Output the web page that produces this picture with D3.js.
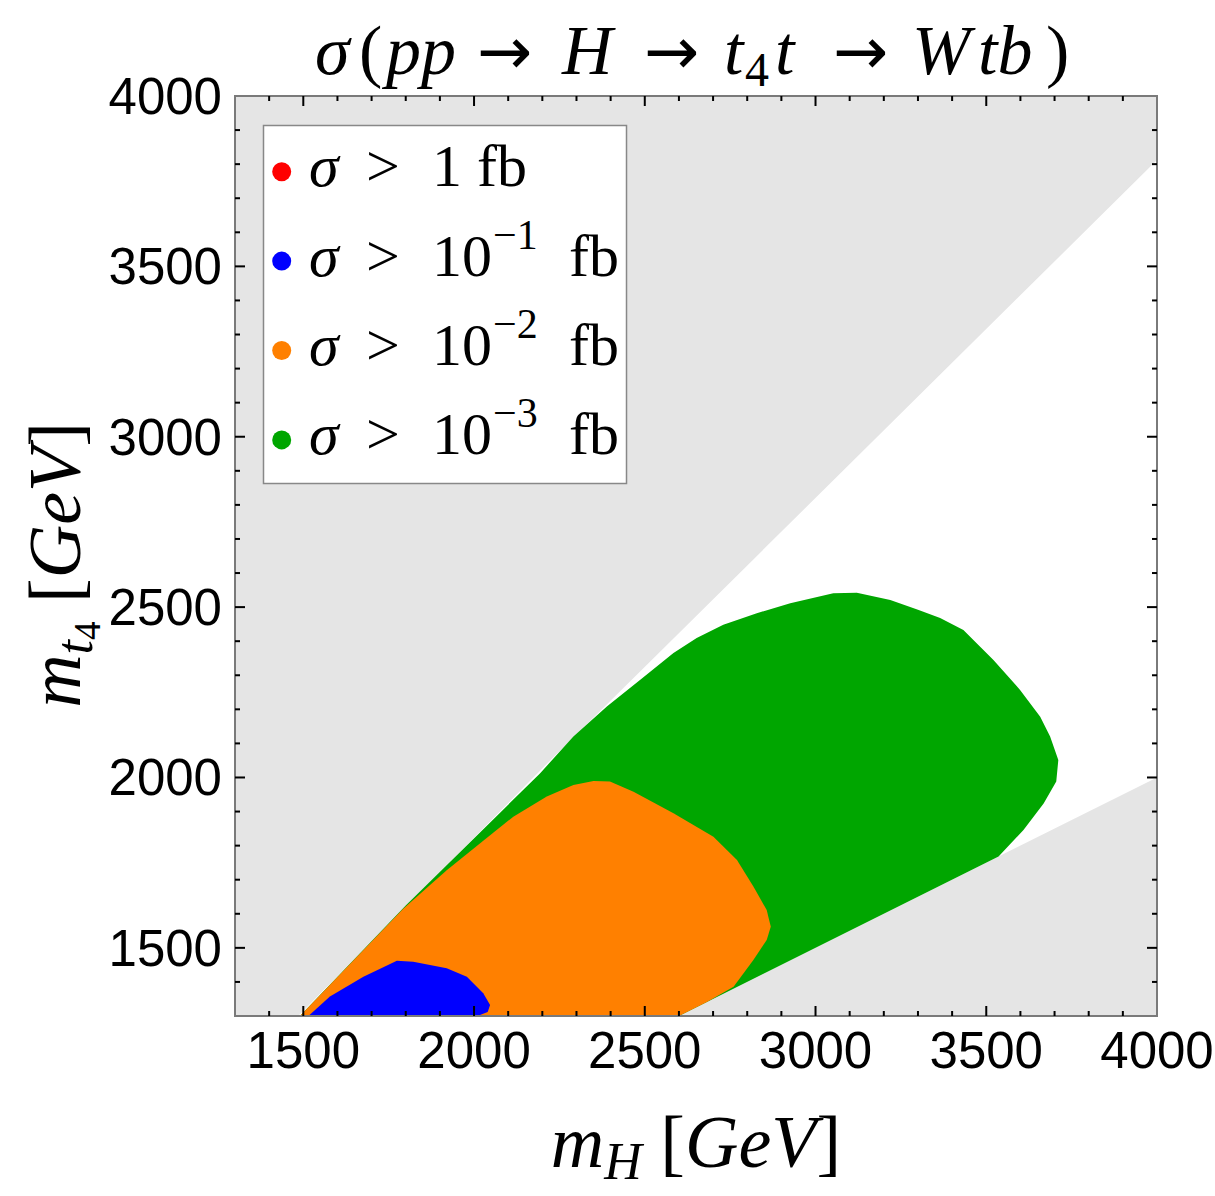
<!DOCTYPE html>
<html><head><meta charset="utf-8">
<script src="https://cdn.jsdelivr.net/npm/d3@7"></script>
<style>body{margin:0;background:#fff}</style>
</head><body>
<svg id="c" width="1215" height="1196"></svg>
<script>
// ---- data (GeV) ----
const xTicks = [1500, 2000, 2500, 3000, 3500, 4000];
const yTicks = [1500, 2000, 2500, 3000, 3500, 4000];
const minorTicks = d3.range(1400, 4000, 100);
// kinematic boundaries
const upperEdge = [[1485, 1300], [2225, 2052], [4000, 3812]];
const lowerEdge = [[2600, 1300], [4000, 2000]];
// contour regions
const green = [[1490,1300],[1800,1624],[2193,2012],[2291,2120],[2389,2208],[2486,2286],[2584,2365],[2652,2409],[2730,2448],[2828,2482],[2926,2511],[3052,2541],[3121,2542],[3219,2521],[3300,2492],[3365,2468],[3433,2433],[3521,2345],[3599,2257],[3658,2178],[3687,2120],[3711,2051],[3705,1988],[3668,1924],[3609,1846],[3536,1768],[2600,1300]];
const orange = [[1490,1300],[1792,1614],[1920,1728],[2018,1807],[2115,1885],[2213,1944],[2291,1978],[2350,1990],[2398,1988],[2467,1958],[2584,1895],[2701,1826],[2770,1758],[2818,1680],[2857,1611],[2869,1562],[2857,1523],[2818,1464],[2760,1386],[2682,1341],[2600,1300]];
const blue = [[1515,1300],[1578,1357],[1676,1415],[1774,1462],[1822,1459],[1920,1440],[1979,1415],[2027,1367],[2047,1332],[2040,1312],[2010,1300]];
const red = [];
const legendLabels = [["1", null], ["10", "\u22121"], ["10", "\u22122"], ["10", "\u22123"]];
const legendColors = ["#ff0000", "#0000ff", "#ff8000", "#00a600"];

// ---- layout ----
const svg = d3.select("#c");
const L = 235, R = 1157, T = 96, B = 1016;
const x = d3.scaleLinear().domain([1300, 4000]).range([L, R]);
const y = d3.scaleLinear().domain([1300, 4000]).range([B, T]);
const line = d3.line().x(d => x(d[0])).y(d => y(d[1]));

svg.append("clipPath").attr("id", "clip").append("rect")
  .attr("x", L).attr("y", T).attr("width", R - L).attr("height", B - T);
const g = svg.append("g").attr("clip-path", "url(#clip)");

// forbidden regions
const upperPoly = [[1300,1300], ...upperEdge, [4000,4000], [1300,4000]];
const lowerPoly = [...lowerEdge, [4000,1300]];
g.append("path").attr("d", line(upperPoly) + "Z").attr("fill", "#e5e5e5");
g.append("path").attr("d", line(lowerPoly) + "Z").attr("fill", "#e5e5e5");

[[green, "#00a600"], [orange, "#ff8000"], [blue, "#0000ff"], [red, "#ff0000"]].forEach(([pts, col]) => {
  if (pts.length) g.append("path").attr("d", line(pts) + "Z").attr("fill", col);
});

// frame
svg.append("rect").attr("x", L).attr("y", T).attr("width", R - L).attr("height", B - T)
  .attr("fill", "none").attr("stroke", "#7a7a7a").attr("stroke-width", 2);

// ticks
const tk = svg.append("g").attr("stroke", "#000").attr("stroke-width", 2);
const isMajor = v => v % 500 === 0;
const allTicks = minorTicks.concat(xTicks.filter(v => v < 4000)).filter((v, i, a) => a.indexOf(v) === i);
allTicks.forEach(v => {
  const len = isMajor(v) ? 10 : 5;
  tk.append("line").attr("x1", x(v)).attr("x2", x(v)).attr("y1", B).attr("y2", B - len);
  tk.append("line").attr("x1", x(v)).attr("x2", x(v)).attr("y1", T).attr("y2", T + len);
  tk.append("line").attr("y1", y(v)).attr("y2", y(v)).attr("x1", L).attr("x2", L + len);
  tk.append("line").attr("y1", y(v)).attr("y2", y(v)).attr("x1", R).attr("x2", R - len);
});

// tick labels
const tf = "'Liberation Sans', Arial, sans-serif";
xTicks.forEach(v => svg.append("text").attr("x", x(v)).attr("y", 1068)
  .attr("text-anchor", "middle").attr("font-family", tf).attr("font-size", 51).text(v));
yTicks.forEach(v => svg.append("text").attr("x", 222).attr("y", y(v) + 18)
  .attr("text-anchor", "end").attr("font-family", tf).attr("font-size", 51).text(v));

const sf = "'Liberation Serif', 'Times New Roman', serif";
function addParts(t, parts) {
  parts.forEach(p => {
    const s = t.append("tspan").text(p.t);
    if (p.i) s.attr("font-style", "italic");
    if (p.fs) s.attr("font-size", p.fs);
    if (p.dy) s.attr("dy", p.dy);
    if (p.x != null) s.attr("x", p.x);
    if (p.f) s.attr("font-family", p.f);
  });
}

// title
const af = "'DejaVu Sans', sans-serif";
const title = svg.append("text").attr("y", 74).attr("font-family", sf).attr("font-size", 70);
addParts(title, [
  {t: "\u03c3", i: 1, x: 315}, {t: "(", x: 359}, {t: "pp", i: 1, x: 386},
  {t: "\u2192", x: 477, f: af, fs: 66}, {t: "H", i: 1, x: 562},
  {t: "\u2192", x: 644, f: af, fs: 66}, {t: "t", i: 1, x: 724},
  {t: "4", fs: 48, dy: 12, x: 745}, {t: "t", i: 1, dy: -12, x: 775},
  {t: "\u2192", x: 833, f: af, fs: 66}, {t: "W", i: 1, x: 912}, {t: "tb", i: 1, x: 978}, {t: ")", x: 1046}
]);

// x label
const xl = svg.append("text").attr("x", 696).attr("y", 1167).attr("text-anchor", "middle")
  .attr("font-family", sf).attr("font-size", 74);
addParts(xl, [{t: "m", i: 1}, {t: "H", i: 1, fs: 52, dy: 12}, {t: " [", dy: -12}, {t: "GeV", i: 1}, {t: "]"}]);

// y label
const yl = svg.append("text").attr("transform", "translate(80,565) rotate(-90)").attr("text-anchor", "middle")
  .attr("font-family", sf).attr("font-size", 74);
addParts(yl, [{t: "m", i: 1}, {t: "t", i: 1, fs: 52, dy: 12}, {t: "4", fs: 37, dy: 8}, {t: " [", dy: -20}, {t: "GeV", i: 1}, {t: "]"}]);

// legend
svg.append("rect").attr("x", 263.5).attr("y", 125.5).attr("width", 363).attr("height", 358)
  .attr("fill", "#fff").attr("stroke", "#888").attr("stroke-width", 1.5);
legendLabels.forEach((lab, i) => {
  const cy = 171.7 + i * 89.4;
  svg.append("circle").attr("cx", 281.7).attr("cy", cy).attr("r", 9.5).attr("fill", legendColors[i]);
  const base = cy + 14.5;
  const add = (txt, xx, opts = {}) => {
    const t = svg.append("text").attr("x", xx).attr("y", opts.sup ? base - 27 : base)
      .attr("font-family", sf).attr("font-size", opts.sup ? 42 : 60).text(txt);
    if (opts.i) t.attr("font-style", "italic");
    return t;
  };
  add("\u03c3", 309, {i: 1});
  add(">", 366);
  add(lab[0], 432);
  if (lab[1]) { add(lab[1], 493, {sup: 1}); add("fb", 569); }
  else add("fb", 477);
});
</script>
</body></html>
